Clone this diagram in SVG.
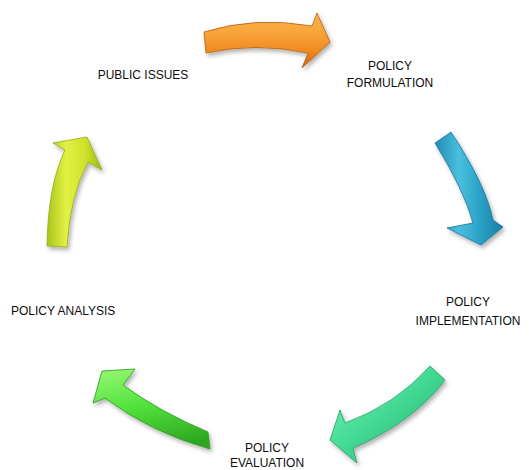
<svg xmlns="http://www.w3.org/2000/svg" width="529" height="470" viewBox="0 0 529 470">
<style>
.lbl{font-family:"Liberation Sans",Arial,sans-serif;font-size:12px;fill:#0d0d0d}
.arr{stroke-width:0.8;stroke-linejoin:round;filter:url(#sh)}
</style>
<defs>
<filter id="sh" x="-20%" y="-20%" width="150%" height="150%">
<feDropShadow dx="2" dy="3" stdDeviation="2" flood-color="#000" flood-opacity="0.3"/>
</filter>
<linearGradient id="gO" x1="0" y1="0" x2="0" y2="1">
<stop offset="0" stop-color="#f9b24c"/><stop offset="0.35" stop-color="#f8a53a"/><stop offset="0.7" stop-color="#ef8a1d"/><stop offset="1" stop-color="#c6650f"/>
</linearGradient>
<linearGradient id="gB" x1="0" y1="0" x2="1" y2="0">
<stop offset="0" stop-color="#1f8db1"/><stop offset="0.35" stop-color="#4bbfde"/><stop offset="0.65" stop-color="#2ba3c7"/><stop offset="1" stop-color="#1a7fa2"/>
</linearGradient>
<linearGradient id="gT" x1="0" y1="0" x2="1" y2="1">
<stop offset="0" stop-color="#80f0bc"/><stop offset="0.45" stop-color="#45dc95"/><stop offset="1" stop-color="#23ad6c"/>
</linearGradient>
<linearGradient id="gG" x1="0.3" y1="0" x2="0.6" y2="1">
<stop offset="0" stop-color="#8ef46c"/><stop offset="0.45" stop-color="#52e23c"/><stop offset="1" stop-color="#2ea620"/>
</linearGradient>
<linearGradient id="gY" x1="0" y1="0" x2="1" y2="0">
<stop offset="0" stop-color="#a9c41a"/><stop offset="0.35" stop-color="#e2f244"/><stop offset="0.7" stop-color="#cde22a"/><stop offset="1" stop-color="#9fb718"/>
</linearGradient>
</defs>
<rect width="529" height="470" fill="#fff"/>
<g id="connectors">
<path class="arr" fill="url(#gO)" stroke="#b85c10" d="M204,32 Q255,16 312,26 L317,13 L330,42 L302,68 L308,53 Q255,42 206,53 Z"/>
<path class="arr" fill="url(#gB)" stroke="#17739a" d="M435,143 L451,132 Q486,185 493,220 L503,227 L481,245 L447,228 L473,223 Q464,190 435,143 Z"/>
<path class="arr" fill="url(#gT)" stroke="#21a066" d="M430,366 L445,380 Q412,423 353,448 L357,463 L330,440 L340,410 L345,423 Q395,405 430,366 Z"/>
<path class="arr" fill="url(#gG)" stroke="#2a9a1e" d="M208,432 L210,449 Q150,432 105,398 L93,403 L102,371 L135,369 L123,385 Q160,412 208,432 Z"/>
<path class="arr" fill="url(#gY)" stroke="#94aa16" d="M47,246 L67,247 Q70,195 88,162 L102,170 L87,137 L53,143 L65,150 Q48,185 47,246 Z"/>
</g>
<g id="public-issues"><text class="lbl" x="143" y="79" text-anchor="middle">PUBLIC ISSUES</text></g>
<g id="policy-formulation"><text class="lbl" x="390" y="70" text-anchor="middle">POLICY</text><text class="lbl" x="390" y="87" text-anchor="middle">FORMULATION</text></g>
<g id="policy-implementation"><text class="lbl" x="468" y="306" text-anchor="middle">POLICY</text><text class="lbl" x="468" y="325" text-anchor="middle">IMPLEMENTATION</text></g>
<g id="policy-evaluation"><text class="lbl" x="267" y="452" text-anchor="middle">POLICY</text><text class="lbl" x="267" y="467" text-anchor="middle">EVALUATION</text></g>
<g id="policy-analysis"><text class="lbl" x="11" y="315">POLICY ANALYSIS</text></g>
</svg>
